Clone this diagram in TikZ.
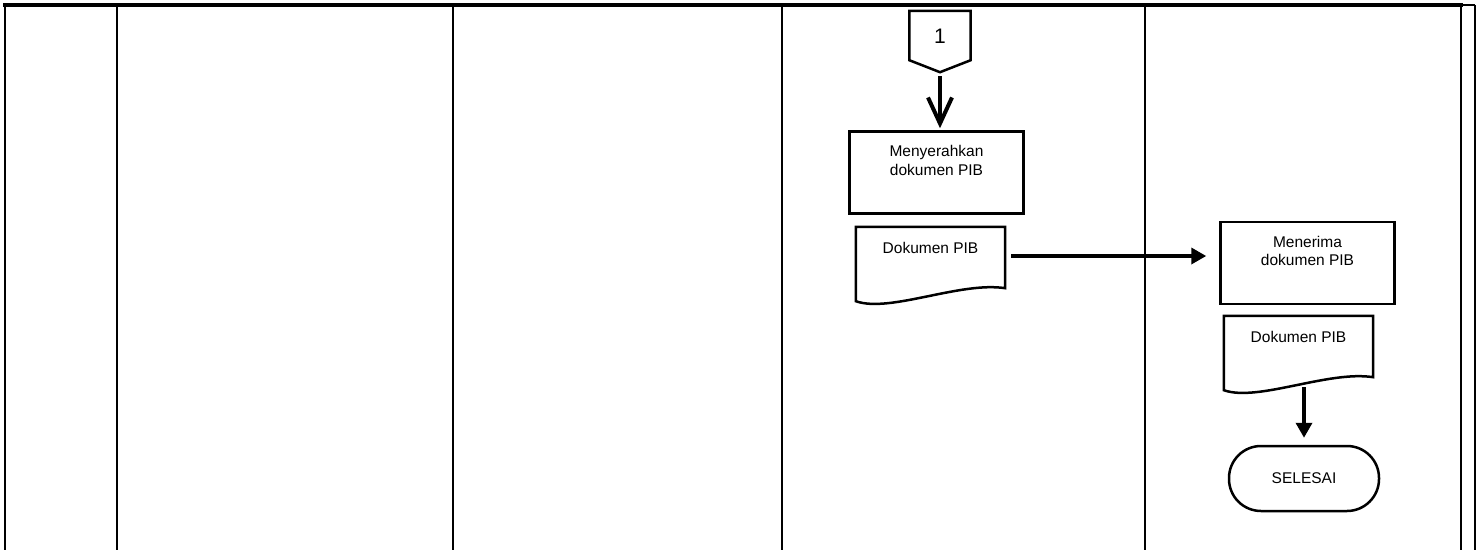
\documentclass[tikz,border=0pt]{standalone}
\usepackage{fontspec}
\setmainfont{Liberation Sans}
\usetikzlibrary{arrows.meta,positioning,calc}

\tikzset{
  lane/.style={line width=2.5pt},
  procbox/.style={draw, line width=2.5pt, minimum width=174pt, minimum height=82pt, inner sep=0pt},
  docbox/.style={minimum width=149pt, minimum height=74pt, inner sep=0pt},
  termbox/.style={draw, line width=2.5pt, rounded corners=32pt, minimum width=150pt, minimum height=65pt,
    font=\fontsize{15.5}{18.5}\selectfont},
  txt/.style={font=\fontsize{15.5}{18.5}\selectfont, align=center, inner sep=0pt},
  flow/.style={line width=3.5pt, -{Triangle[length=15pt,width=16pt]}}
}

% outline of a document symbol around an empty node
\newcommand{\dokpath}[1]{%
  \draw[line width=2.5pt] (#1.north west) -- (#1.north east) -- ($(#1.south east)+(0,13)$)
    .. controls ($(#1.south east)+(-45,20)$) and ($(#1.south west)+(34,-12)$) .. (#1.south west) -- cycle;}

\begin{document}
\begin{tikzpicture}[x=1pt,y=1pt]
  \useasboundingbox (0,0) rectangle (1482,550);
  % lanes
  \foreach \x in {5,117,453,782,1145,1461,1475}
    \draw[lane] (\x,545) -- (\x,0);
  \draw[line width=3.5pt, line cap=rect] (5,545) -- (1461,545);
  \draw[lane] (1461,545) -- (1475,545);

  % off-page connector
  \node[minimum width=61pt, minimum height=61pt, inner sep=0pt] (conn) at (940,508.5) {};
  \draw[line width=2.5pt] (conn.north west) -- (conn.north east) -- ($(conn.south east)+(0,12)$)
    -- (conn.south) -- ($(conn.south west)+(0,12)$) -- cycle;
  \node[font=\fontsize{21}{21}\selectfont, inner sep=0pt] (conn-num) at ($(conn)+(0,5.5)$) {1};

  \node[procbox] (serah) at (936.5,377.5) {};
  \node[txt, below=15pt of serah.north] (serah-txt) {Menyerahkan\\dokumen PIB};
  \draw[line width=4pt, -{Straight Barb[length=26pt,width=24pt]}, shorten <=4pt, shorten >=2pt]
    (conn.south) -- (conn.south |- serah.north);

  \node[docbox] (dok1) at (930.5,286) {};
  \dokpath{dok1}
  \node[txt, below=15pt of dok1.north] (dok1-txt) {Dokumen PIB};

  \node[procbox] (terima) at (1307.5,287) {};
  \node[txt, below=15pt of terima.north] (terima-txt) {Menerima\\dokumen PIB};

  \node[docbox] (dok2) at (1298.5,197) {};
  \dokpath{dok2}
  \node[txt, below=15pt of dok2.north] (dok2-txt) {Dokumen PIB};

  \node[termbox] (selesai) at (1304,71.5) {SELESAI};

  \coordinate (a) at ($(dok1.east)+(0,8)$);
  \draw[flow, shorten <=6pt, shorten >=13pt] (a) -- (a -| terima.west);
  \draw[flow, shorten >=7pt] ($(dok2.south -| selesai.north)+(0,3)$) -- (selesai.north);
\end{tikzpicture}
\end{document}
